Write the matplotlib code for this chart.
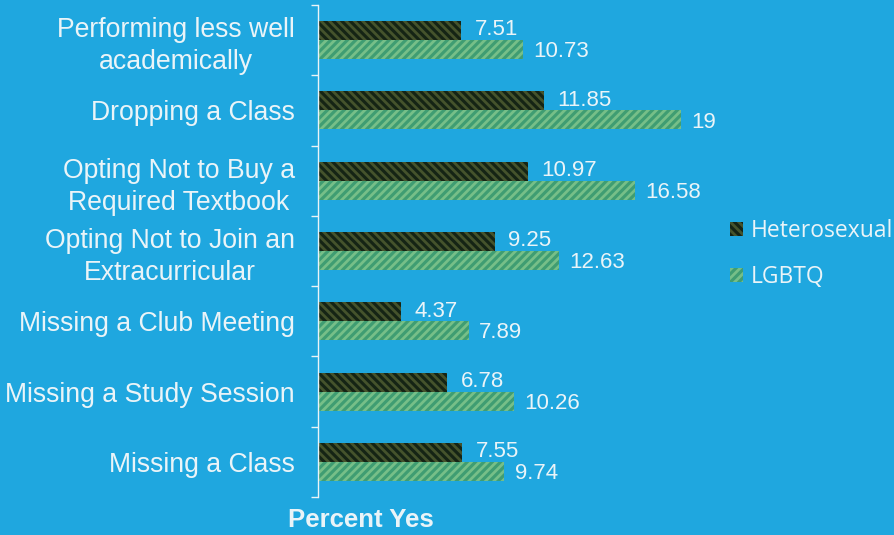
import matplotlib
matplotlib.use("Agg")
import matplotlib.pyplot as plt
import numpy as np

plt.rcParams['hatch.linewidth'] = 2.0

categories = ["Performing less well\nacademically", "Dropping a Class",
              "Opting Not to Buy a\nRequired Textbook", "Opting Not to Join an\nExtracurricular",
              "Missing a Club Meeting", "Missing a Study Session", "Missing a Class"]
hetero = [7.51, 11.85, 10.97, 9.25, 4.37, 6.78, 7.55]
lgbtq = [10.73, 19, 16.58, 12.63, 7.89, 10.26, 9.74]
hetero_labels = ["7.51", "11.85", "10.97", "9.25", "4.37", "6.78", "7.55"]
lgbtq_labels = ["10.73", "19", "16.58", "12.63", "7.89", "10.26", "9.74"]

bg = "#1fa7df"
txt = "#eaf4f8"

fig = plt.figure(figsize=(8.94, 5.35), dpi=100, facecolor=bg)
ax = fig.add_axes([318/894, 1-497/535, 382/894, 492/535])
ax.set_facecolor(bg)

n = len(categories)
y = np.arange(n)
h = 0.27
b1 = ax.barh(y - h/2, hetero, height=h, color="#152415", edgecolor="#45532c",
             hatch="\\\\\\\\", linewidth=0, label="Heterosexual")
b2 = ax.barh(y + h/2, lgbtq, height=h, color="#3f9d72", edgecolor="#76bf88",
             hatch="////", linewidth=0, label="LGBTQ")

for yi, v, s in zip(y, hetero, hetero_labels):
    ax.text(v + 0.7, yi - h/2 - 0.01, s, color=txt, fontsize=16, va='center',
            ha='left', family="Liberation Sans")
for yi, v, s in zip(y, lgbtq, lgbtq_labels):
    ax.text(v + 0.55, yi + h/2 + 0.03, s, color=txt, fontsize=16, va='center',
            ha='left', family="Liberation Sans")

ax.set_ylim(n - 0.5, -0.5)
ax.set_xlim(0, 20)
ax.set_yticks(y)
ax.set_yticklabels(categories, fontsize=19.2, color=txt, family="Liberation Sans",
                   multialignment='center', linespacing=1.3)
ax.set_yticks(np.arange(n + 1) - 0.5, minor=True)
ax.tick_params(axis='y', which='major', length=0, pad=16.5)
ax.tick_params(axis='y', which='minor', length=5, color=txt, width=1)
ax.set_xticks([])
for s in ['top', 'right', 'bottom']:
    ax.spines[s].set_visible(False)
ax.spines['left'].set_color(txt)
ax.spines['left'].set_linewidth(1)

fig.text(361/894, 1-520/535, "Percent Yes", color=txt, fontsize=18.5, fontweight='bold',
         ha='center', va='center', family="Liberation Sans")

leg = fig.legend(handles=[b1, b2], loc='upper left', bbox_to_anchor=(730/894, 1-219/535),
                 frameon=False, labelcolor=txt, handlelength=0.55,
                 handleheight=0.55, handletextpad=0.35, labelspacing=0.95,
                 borderpad=0, borderaxespad=0,
                 prop={'family': 'Open Sans', 'size': 16.5})

fig.savefig("out.png", dpi=100, facecolor=bg)
